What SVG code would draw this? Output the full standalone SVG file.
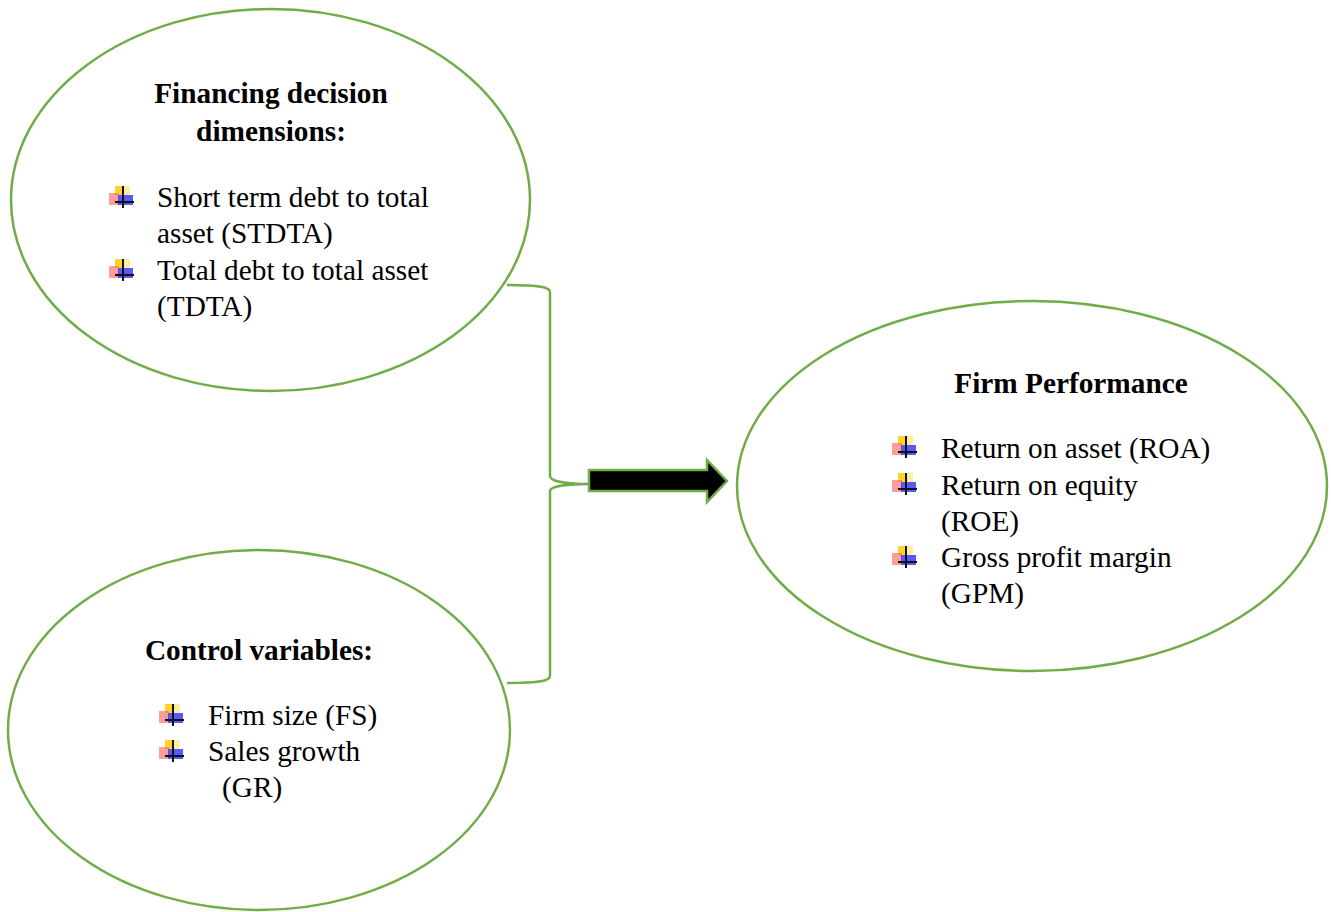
<svg xmlns="http://www.w3.org/2000/svg" width="1331" height="912" viewBox="0 0 1331 912">
<style>
.ell{fill:#fff;stroke:#70ad47;stroke-width:2.5}
.t{font-family:"Liberation Serif","Times New Roman",serif;font-size:29.3px;fill:#000}
.b{font-weight:bold}
.m{text-anchor:middle}
.con{fill:none;stroke:#70ad47;stroke-width:2.5}
</style>
<defs>
<symbol id="bul" viewBox="0 0 25 22" width="25" height="22" overflow="visible">
<rect x="6" y="0" width="8" height="9" fill="#ffcc00" opacity="0.85"/>
<rect x="14" y="0" width="7" height="10" fill="#ffeb99" opacity="0.9"/>
<rect x="0" y="7" width="10" height="12" fill="#ff5a5a" opacity="0.6"/>
<rect x="9" y="9" width="15" height="10" fill="#3030ff" opacity="0.8"/>
<line x1="14" y1="0" x2="14" y2="22" stroke="#111" stroke-width="2"/>
<line x1="6" y1="16" x2="25" y2="16" stroke="#111" stroke-width="2"/>
</symbol>
</defs>
<rect width="1331" height="912" fill="#fff"/>
<g id="connectors">
<path class="con" d="M507,285 C540,285 550,287 550,292 L550,476 C550,482 570,484 589,484 C570,484 550,486 550,491 L550,676 C550,681 540,683 507,683"/>
<polygon points="589,470 707,470 707,460 727,481 707,502 707,491 589,491" fill="#000" stroke="#70ad47" stroke-width="2.5"/>
</g>
<g id="financing">
<ellipse class="ell" cx="270.5" cy="200" rx="259.5" ry="191"/>
<text class="t b m" x="271" y="103">Financing decision</text>
<text class="t b m" x="271" y="141">dimensions:</text>
<use href="#bul" x="109" y="186"/>
<text class="t" x="157" y="207">Short term debt to total</text>
<text class="t" x="157" y="243">asset (STDTA)</text>
<use href="#bul" x="109" y="259"/>
<text class="t" x="157" y="280">Total debt to total asset</text>
<text class="t" x="157" y="316">(TDTA)</text>
</g>
<g id="control">
<ellipse class="ell" cx="259" cy="730" rx="251" ry="180"/>
<text class="t b m" x="259" y="660">Control variables:</text>
<use href="#bul" x="159" y="704"/>
<text class="t" x="208" y="725">Firm size (FS)</text>
<use href="#bul" x="159" y="740"/>
<text class="t" x="208" y="761">Sales growth</text>
<text class="t" x="222" y="797">(GR)</text>
</g>
<g id="performance">
<ellipse class="ell" cx="1032" cy="486" rx="295" ry="185"/>
<text class="t b m" x="1071" y="393">Firm Performance</text>
<use href="#bul" x="892" y="436"/>
<text class="t" x="941" y="458">Return on asset (ROA)</text>
<use href="#bul" x="892" y="473"/>
<text class="t" x="941" y="495">Return on equity</text>
<text class="t" x="941" y="531">(ROE)</text>
<use href="#bul" x="892" y="546"/>
<text class="t" x="941" y="567">Gross profit margin</text>
<text class="t" x="941" y="603">(GPM)</text>
</g>
</svg>
